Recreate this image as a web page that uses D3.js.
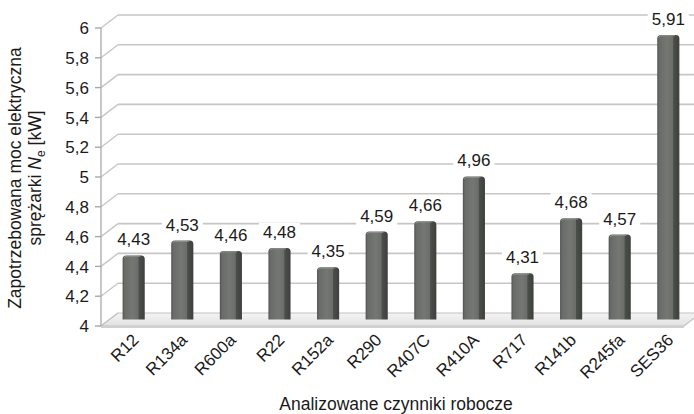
<!DOCTYPE html>
<html>
<head>
<meta charset="utf-8">
<script src="https://cdn.jsdelivr.net/npm/d3@7"></script>
<style>
  html, body { margin: 0; padding: 0; background: #ffffff; }
  svg { display: block; font-family: "Liberation Sans", Arial, sans-serif; }
</style>
</head>
<body>
<svg id="chart" width="694" height="414"></svg>
<script>
// ---- data ----
const categories = ["R12", "R134a", "R600a", "R22", "R152a", "R290", "R407C", "R410A", "R717", "R141b", "R245fa", "SES36"];
const values = [4.43, 4.53, 4.46, 4.48, 4.35, 4.59, 4.66, 4.96, 4.31, 4.68, 4.57, 5.91];
const yTicks = [4, 4.2, 4.4, 4.6, 4.8, 5, 5.2, 5.4, 5.6, 5.8, 6];
const yTitle1 = "Zapotrzebowana moc elektryczna";
const xTitle = "Analizowane czynniki robocze";

const fmt = v => String(v).replace(".", ",");

const svg = d3.select("#chart");

// 3D geometry (depth offset)
const dx = 17, dy = -13;
const frontLeft = 101, frontRight = 684;

const y = d3.scaleLinear().domain([4, 6]).range([326, 28]);
// bars sit at mid-depth
const x = d3.scaleBand().domain(categories).range([frontLeft + dx / 2, frontRight + dx / 2]).paddingInner(0.545).paddingOuter(0.27);

const defs = svg.append("defs");
const grad = defs.append("linearGradient").attr("id", "barGrad").attr("x1", "0").attr("x2", "1").attr("y1", "0").attr("y2", "0");
[["0%", "#4e514d"], ["9%", "#686b67"], ["45%", "#747772"], ["70%", "#6a6d68"], ["74%", "#4b4e4a"], ["100%", "#3d403c"]]
  .forEach(([o, c]) => grad.append("stop").attr("offset", o).attr("stop-color", c));
const floorGrad = defs.append("linearGradient").attr("id", "floorGrad").attr("x1", "0").attr("x2", "0").attr("y1", "0").attr("y2", "1");
[["0%", "#f4f4f4"], ["100%", "#e2e2e2"]].forEach(([o, c]) => floorGrad.append("stop").attr("offset", o).attr("stop-color", c));

const gridColor = "#c6c6c6";

// back wall gridlines + left wall diagonals
const grid = svg.append("g");
yTicks.forEach(t => {
  const yy = y(t);
  if (t > 4) {
    grid.append("line").attr("x1", frontLeft + dx).attr("x2", 694).attr("y1", yy + dy).attr("y2", yy + dy)
      .attr("stroke", gridColor).attr("stroke-width", 1.6);
  }
  grid.append("line").attr("x1", frontLeft).attr("y1", yy).attr("x2", frontLeft + dx).attr("y2", yy + dy)
    .attr("stroke", gridColor).attr("stroke-width", 1.4);
});

// floor
const y0 = y(4);
svg.append("polygon")
  .attr("points", [[frontLeft, y0], [frontRight, y0], [frontRight + dx, y0 + dy], [frontLeft + dx, y0 + dy]].map(p => p.join(",")).join(" "))
  .attr("fill", "url(#floorGrad)").attr("stroke", "#c2c2c2").attr("stroke-width", 1.2);
svg.append("polygon")
  .attr("points", [[frontLeft, y0], [frontRight, y0], [frontRight, y0 + 2], [frontLeft, y0 + 2]].map(p => p.join(",")).join(" "))
  .attr("fill", "#d0d0d0");

// front axis
svg.append("line").attr("x1", frontLeft).attr("x2", frontLeft).attr("y1", y(6)).attr("y2", y(4))
  .attr("stroke", "#b0b0b0").attr("stroke-width", 1.4);
const yAxis = svg.append("g");
yTicks.forEach(t => {
  yAxis.append("line").attr("x1", frontLeft - 6).attr("x2", frontLeft).attr("y1", y(t)).attr("y2", y(t))
    .attr("stroke", "#a8a8a8").attr("stroke-width", 1.4);
  yAxis.append("text").attr("x", 89).attr("y", y(t)).attr("dy", "0.36em").attr("text-anchor", "end")
    .attr("font-size", 17).attr("fill", "#1a1a1a").text(fmt(t));
});

// bars
const midOff = dy / 2;
const baseY = y(4) + midOff;
const bars = svg.append("g");
categories.forEach((c, i) => {
  const v = values[i];
  const bx = x(c), bw = x.bandwidth();
  const top = y(v) + midOff;
  const r = 3.5;
  const p = d3.path();
  p.moveTo(bx, baseY);
  p.lineTo(bx, top + r);
  p.quadraticCurveTo(bx, top, bx + r, top);
  p.lineTo(bx + bw - r, top);
  p.quadraticCurveTo(bx + bw, top, bx + bw, top + r);
  p.lineTo(bx + bw, baseY);
  p.closePath();
  bars.append("path").attr("d", p.toString()).attr("fill", "url(#barGrad)");
  // top highlight
  bars.append("path")
    .attr("d", `M${bx + 1.5},${top + 2.5} Q${bx + 2},${top + 0.8} ${bx + r + 1},${top + 0.8} L${bx + bw - r - 1},${top + 0.8}`)
    .attr("fill", "none").attr("stroke", "#8d908b").attr("stroke-width", 1);
});

// value labels with white background
const labels = svg.append("g");
categories.forEach((c, i) => {
  const v = values[i];
  const cx = x(c) + x.bandwidth() / 2;
  const base = y(v) + midOff - 10;
  const t = labels.append("text").attr("x", cx).attr("y", base).attr("text-anchor", "middle")
    .attr("font-size", 17).attr("fill", "#1a1a1a").text(fmt(v));
  const bb = t.node().getBBox();
  labels.insert("rect", "text").attr("x", bb.x - 4).attr("y", bb.y).attr("width", bb.width + 8).attr("height", bb.height)
    .attr("fill", "#ffffff");
});
// move texts above rects
labels.selectAll("text").raise();

// x labels
const xl = svg.append("g");
categories.forEach(c => {
  const cx = x(c) + x.bandwidth() / 2;
  xl.append("text").attr("transform", `translate(${cx + 6},${341}) rotate(-45)`).attr("text-anchor", "end")
    .attr("font-size", 17).attr("fill", "#1a1a1a").text(c);
});

// axis titles
const yt = svg.append("g").attr("fill", "#1a1a1a").attr("font-size", 17.5);
yt.append("text").attr("transform", "translate(21,178) rotate(-90)").attr("text-anchor", "middle").text(yTitle1);
const t2 = yt.append("text").attr("transform", "translate(41,178) rotate(-90)").attr("text-anchor", "middle");
t2.append("tspan").text("sprężarki ");
t2.append("tspan").attr("font-style", "italic").text("N");
t2.append("tspan").attr("font-size", 12).attr("dy", 4).text("e");
t2.append("tspan").attr("dy", -4).text(" [kW]");

svg.append("text").attr("x", 396).attr("y", 410).attr("text-anchor", "middle").attr("font-size", 17.5)
  .attr("fill", "#1a1a1a").text(xTitle);
</script>
</body>
</html>
